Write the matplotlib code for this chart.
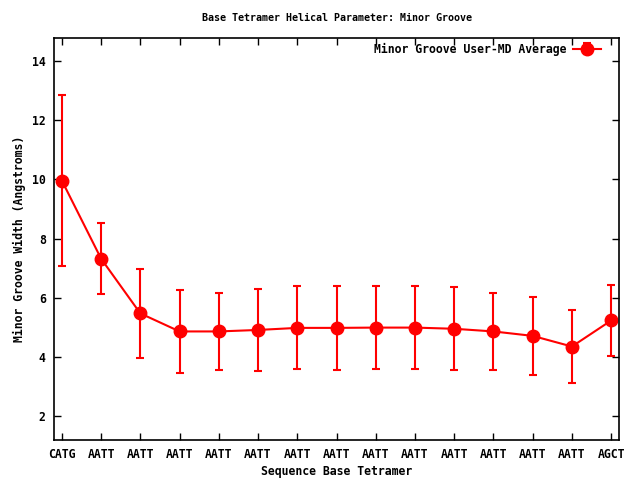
import matplotlib
matplotlib.use("Agg")
import matplotlib.pyplot as plt
import numpy as np

# sequence tetramers along the x axis
tetramers = ["CATG", "AATT", "AATT", "AATT", "AATT", "AATT", "AATT", "AATT",
             "AATT", "AATT", "AATT", "AATT", "AATT", "AATT", "AGCT"]
# average minor groove width and std dev (Angstroms)
groove_avg = [9.96, 7.32, 5.47, 4.86, 4.86, 4.91, 4.98, 4.98,
              4.99, 4.99, 4.95, 4.86, 4.71, 4.35, 5.23]
groove_std = [2.90, 1.21, 1.50, 1.41, 1.31, 1.40, 1.40, 1.41,
              1.41, 1.41, 1.41, 1.31, 1.31, 1.23, 1.21]

plt.rcParams['font.family'] = ['DejaVu Sans Mono']
plt.rcParams['font.weight'] = 'bold'
fs = 8.3

fig = plt.figure(figsize=(6.4, 4.8), dpi=100)
ax = fig.add_axes([54/640, 40/480, 565/640, 402/480])

x = np.arange(len(tetramers))
ax.errorbar(x, groove_avg, yerr=groove_std, color='#ff0000', lw=1.5,
            marker='o', markersize=9, capsize=3, capthick=1.5, elinewidth=1.5,
            label='Minor Groove User-MD Average')

ax.set_xlim(-0.2, 14.2)
ax.set_ylim(1.19, 14.78)
ax.set_xticks(x)
ax.set_xticklabels(tetramers)
ax.set_yticks([2, 4, 6, 8, 10, 12, 14])
ax.tick_params(direction='in', length=5, width=1, top=True, right=True,
               labelsize=fs, pad=6)
for s in ax.spines.values():
    s.set_linewidth(1.2)

ax.set_title("Base Tetramer Helical Parameter: Minor Groove",
             fontsize=7.2, fontweight='bold', pad=12)
ax.set_xlabel("Sequence Base Tetramer", fontsize=fs, fontweight='bold', labelpad=3)
ax.set_ylabel("Minor Groove Width (Angstroms)", fontsize=fs, fontweight='bold', labelpad=4)

# legend sits top right, line sample after the text (gnuplot style)
ax.legend(loc='upper right', bbox_to_anchor=(0.977, 1.0),
          frameon=False, markerfirst=False, fontsize=fs,
          handlelength=2.5, borderaxespad=0.0, handletextpad=0.5)

fig.savefig("out.png", dpi=100)
